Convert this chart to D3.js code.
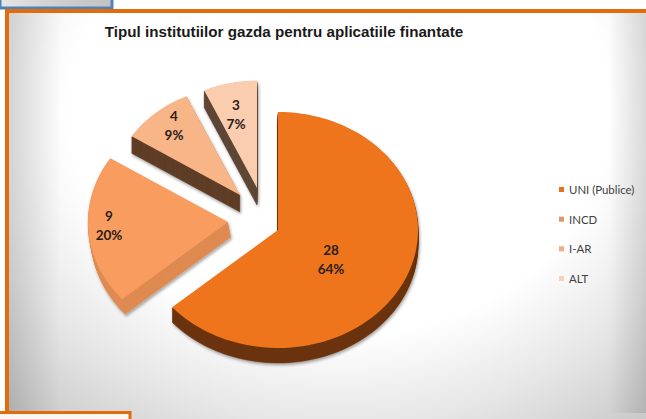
<!DOCTYPE html>
<html><head><meta charset="utf-8">
<script src="https://cdn.jsdelivr.net/npm/d3@7/dist/d3.min.js"></script>
<style>html,body{margin:0;padding:0;background:#fff}svg{display:block}</style></head>
<body><svg id="c" width="646" height="419"></svg>
<script>
const titleText = "Tipul institutiilor gazda pentru aplicatiile finantate";
const categories = ["UNI (Publice)", "INCD", "I-AR", "ALT"];
const values = [28, 9, 4, 3];
const percentLabels = ["64%", "20%", "9%", "7%"];
const legendColors = ["#E8711C", "#DE9468", "#EFAF88", "#F8D2BC"];
const topColors = ["#EF741A", "#F89C5E", "#F8B588", "#F9CDAE"];
const sideColors = ["#6B3209", "#DE8B52", "#5E3D26", "#5E4636"];
const apexX = [278, 228, 240, 257];
const apexY = [230, 222, 195, 188];
const radiusFactor = [1, 1, 0.92, 0.91];
const depths = [15, 15, 17, 17];
const wallSkew = [0, 0.2, 0, 0];
const labelX = [331, 109, 174, 236];
const labelY = [255, 221, 121, 110];

const svg = d3.select("#c");
const defs = svg.append("defs");
const bg = defs.append("radialGradient").attr("id","bg").attr("gradientUnits","userSpaceOnUse")
  .attr("cx",0).attr("cy",0).attr("r",410)
  .attr("gradientTransform","translate(340 110) scale(1.2 1)");
[[0,"#fff"],[0.55,"#fff"],[0.77,"#e6e6e6"],[1,"#c6c6c6"]].forEach(s=>bg.append("stop").attr("offset",s[0]).attr("stop-color",s[1]));
const blue = defs.append("linearGradient").attr("id","blue");
[[0,"#e6e6e6"],[0.5,"#cfcfcf"],[1,"#c2c2c2"]].forEach(s=>blue.append("stop").attr("offset",s[0]).attr("stop-color",s[1]));
const leftBand = defs.append("linearGradient").attr("id","leftBand");
[[0,0.12],[1,0]].forEach(s=>leftBand.append("stop").attr("offset",s[0]).attr("stop-color","#000").attr("stop-opacity",s[1]));
const rightBand = defs.append("linearGradient").attr("id","rightBand");
[[0,0],[1,0.12]].forEach(s=>rightBand.append("stop").attr("offset",s[0]).attr("stop-color","#000").attr("stop-opacity",s[1]));
const sh = defs.append("filter").attr("id","sh").attr("x","-20%").attr("y","-20%").attr("width","140%").attr("height","140%");
sh.append("feDropShadow").attr("dx",1).attr("dy",2).attr("stdDeviation",1.5).attr("flood-color","#000").attr("flood-opacity",0.35);

// surrounding slide frames
svg.append("rect").attr("x",0).attr("y",-4).attr("width",112).attr("height",12).attr("fill","url(#blue)").attr("stroke","#4F81BD").attr("stroke-width",3);
svg.append("rect").attr("x",7).attr("y",11).attr("width",650).attr("height",420).attr("fill","url(#bg)");
svg.append("rect").attr("x",9).attr("y",13).attr("width",52).attr("height",400).attr("fill","url(#leftBand)");
svg.append("rect").attr("x",608).attr("y",13).attr("width",38).attr("height",400).attr("fill","url(#rightBand)");
svg.append("rect").attr("x",7).attr("y",11).attr("width",650).attr("height",420).attr("fill","none").attr("stroke","#E36C0A").attr("stroke-width",4);
svg.append("rect").attr("x",-4).attr("y",412.5).attr("width",134).attr("height",20).attr("fill","#fbf6f2").attr("stroke","#E36C0A").attr("stroke-width",3);

svg.append("text").attr("x",284).attr("y",37).attr("text-anchor","middle")
  .attr("font-family","Liberation Sans").attr("font-weight","bold").attr("font-size",15.2).attr("fill","#1a1a1a").text(titleText);

// pie
const pie = d3.pie().sort(null).value(d=>d);
const arcs = pie(values);
const rx = d3.scaleLinear().domain([0,1]).range([0,140]);
const ry = d3.scaleLinear().domain([0,1]).range([0,118]);
const line = d3.line();
function outline(a,i){
  const f = radiusFactor[i], n = Math.ceil((a.endAngle-a.startAngle)*30);
  const pts = [[apexX[i],apexY[i]]];
  d3.range(n+1).forEach(k=>{
    const t = a.startAngle+(a.endAngle-a.startAngle)*k/n;
    pts.push([apexX[i]+rx(f)*Math.sin(t), apexY[i]-ry(f)*Math.cos(t)]);
  });
  return line(pts)+"Z";
}
const g = svg.selectAll("g.s").data(arcs).join("g").attr("class","s").attr("filter","url(#sh)");
g.each(function(a,i){
  const s = d3.select(this), p = outline(a,i);
  s.selectAll("path.w").data(d3.range(1,depths[i]+1).reverse()).join("path").attr("class","w")
    .attr("d",p).attr("transform",d=>`translate(${d*wallSkew[i]},${d})`).attr("fill",sideColors[i]).attr("stroke",sideColors[i]).attr("stroke-width",0.5);
  s.append("path").attr("d",p).attr("fill",topColors[i]);
});

svg.selectAll("text.l").data(arcs).join("text").attr("class","l")
  .attr("text-anchor","middle").attr("font-family","Lato").attr("font-weight","bold").attr("font-size",13.5).attr("fill","#2a2018")
  .each(function(a,i){
    const t = d3.select(this);
    t.append("tspan").attr("x",labelX[i]).attr("y",labelY[i]).text(a.value);
    t.append("tspan").attr("x",labelX[i]).attr("y",labelY[i]+19).text(percentLabels[i]);
  });

// legend
const ly = d3.scalePoint().domain(categories).range([190,279]);
const lg = svg.selectAll("g.lg").data(categories).join("g").attr("class","lg").attr("transform",d=>`translate(559,${ly(d)})`);
lg.append("rect").attr("x",0).attr("y",-3).attr("width",5).attr("height",5).attr("fill",(d,i)=>legendColors[i]);
lg.append("text").attr("x",10).attr("y",4).attr("font-family","Lato").attr("font-size",11.4).attr("fill","#404040").text(d=>d);
</script></body></html>
